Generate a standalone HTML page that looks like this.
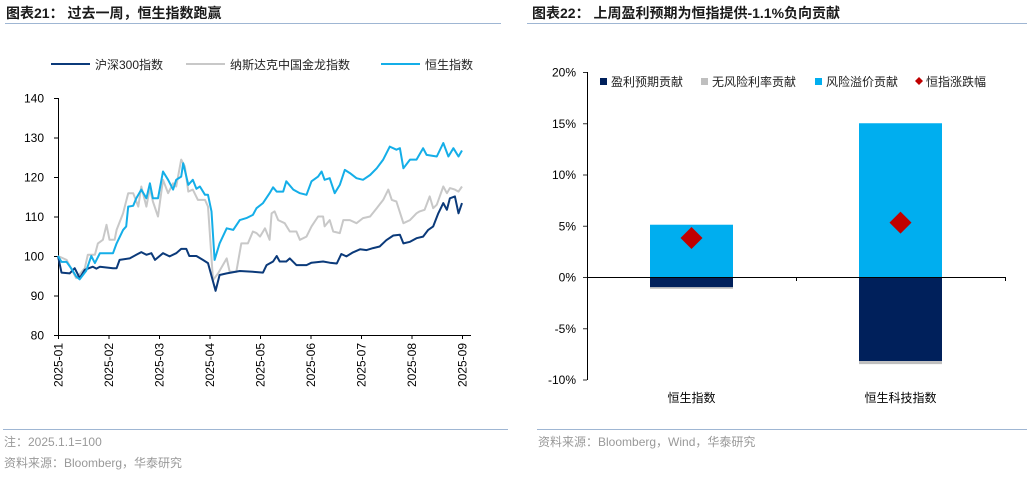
<!DOCTYPE html>
<html><head><meta charset="utf-8"><style>
body{margin:0;background:#fff;width:1031px;height:475px;overflow:hidden;font-family:"Liberation Sans","Noto Sans CJK SC",sans-serif}
svg text{font-family:"Liberation Sans","Noto Sans CJK SC",sans-serif}
</style></head><body>
<svg id="s" width="1031" height="475">
<text x="6" y="18" font-size="14" font-weight="bold" fill="#1a1a1a">图表21：  过去一周，恒生指数跑赢</text>
<line x1="5" y1="23.5" x2="501" y2="23.5" stroke="#9fb6d3" stroke-width="1"/>
<text x="532" y="18" font-size="14" font-weight="bold" fill="#1a1a1a">图表22：  上周盈利预期为恒指提供-1.1%负向贡献</text>
<line x1="527" y1="23.5" x2="1027" y2="23.5" stroke="#9fb6d3" stroke-width="1"/>
<line x1="3" y1="429.5" x2="508" y2="429.5" stroke="#9fb6d3"/>
<line x1="537" y1="429.5" x2="1027" y2="429.5" stroke="#9fb6d3"/>
<text x="4" y="446" font-size="12" fill="#999">注：2025.1.1=100</text>
<text x="4" y="467" font-size="12" fill="#999">资料来源：Bloomberg，华泰研究</text>
<text x="538" y="446" font-size="12" fill="#999">资料来源：Bloomberg，Wind，华泰研究</text>
<g id="left"></g>
<g id="right"></g>
</svg>
<script>
const monthLabels=["2025-01","2025-02","2025-03","2025-04","2025-05","2025-06","2025-07","2025-08","2025-09"];
const yTicksL=[80,90,100,110,120,130,140];
const hsiT=[0,.07,.17,.26,.36,.43,.56,.66,.73,.83,1.09,1.16,1.29,1.35,1.39,1.49,1.55,1.65,1.75,1.82,1.88,1.98,2.08,2.18,2.28,2.34,2.44,2.48,2.58,2.67,2.74,2.81,2.91,2.97,3.04,3.10,3.20,3.34,3.47,3.60,3.73,3.86,3.93,4.06,4.19,4.26,4.33,4.46,4.52,4.66,4.79,4.92,5.02,5.15,5.22,5.28,5.38,5.48,5.58,5.68,5.78,5.91,6.04,6.18,6.31,6.44,6.57,6.70,6.77,6.84,6.97,7.10,7.23,7.30,7.50,7.63,7.73,7.83,7.93,8.0];
const hsiV=[100,98.5,98.5,96.9,94.8,94.1,96.3,100,98.2,100.7,100.7,103.2,106.6,107.5,112.5,112.7,114.6,116.8,114.6,118.4,114.6,114.6,121.4,119.3,116.8,119.3,120.1,123.5,118,119.3,117,117.6,115.5,115.5,111.3,99,103.2,107,106.6,109.1,109.6,110.4,112.1,113.4,115.9,117.4,116.3,116.3,118.9,116.8,115.9,115.5,118.9,120.1,121.4,119.3,119.7,115.9,118,121.8,121,119.7,119.3,120.5,122.2,124.4,127.7,126.9,127.3,122.2,124.4,124.4,127.3,125.6,125.2,128.6,125.2,127.3,125.2,126.7];
const ndT=[0,.17,.36,.53,.59,.73,.79,.89,.96,1.02,1.12,1.16,1.29,1.39,1.49,1.59,1.65,1.75,1.82,1.88,1.98,2.08,2.18,2.28,2.34,2.44,2.51,2.58,2.67,2.77,2.91,2.97,3.07,3.17,3.34,3.40,3.53,3.63,3.76,3.86,3.93,4.00,4.10,4.19,4.23,4.29,4.36,4.49,4.59,4.72,4.79,4.92,5.02,5.15,5.25,5.28,5.38,5.45,5.58,5.65,5.78,5.91,6.04,6.18,6.31,6.44,6.54,6.61,6.70,6.84,6.97,7.10,7.16,7.26,7.36,7.43,7.50,7.63,7.70,7.76,7.86,7.93,8.0];
const ndV=[100,99,94.4,96.9,100.3,100.3,103.2,104.1,107.9,104.1,104.1,106.6,110.8,115.9,115.9,112.5,117.6,112.5,117.2,113.8,110,119.3,115.9,118.4,117.6,124.4,122.7,116.3,116.8,114.2,114.2,112.5,93.9,95.6,99.4,96,96,103.2,103.2,106.2,105.8,104.9,107,104.1,110.8,111.3,109.1,108.3,106.2,106.2,104.1,104.9,107.5,110,110,107.5,109.1,106.2,105.8,109.1,109.1,108.3,109.6,110,112.1,114.2,116.8,114.2,113.8,108.3,109.1,110.8,111.3,111.7,115.1,112.1,113,117.6,115.9,117.2,116.8,116.3,117.6];
const csiT=[0,.07,.23,.33,.43,.53,.69,.76,.83,1.09,1.16,1.22,1.42,1.55,1.65,1.75,1.85,1.92,2.08,2.21,2.34,2.44,2.54,2.60,2.74,2.87,2.97,3.12,3.20,3.34,3.60,3.86,4.06,4.13,4.26,4.33,4.39,4.52,4.59,4.72,4.92,5.02,5.25,5.38,5.52,5.61,5.71,5.84,5.98,6.11,6.24,6.37,6.50,6.64,6.77,6.84,6.97,7.10,7.23,7.33,7.43,7.53,7.63,7.70,7.76,7.86,7.93,8.0];
const csiV=[100,95.8,95.6,96.9,94.4,96.5,97.3,96.8,97.3,96.9,96.9,99,99.4,100.3,101,100.3,100.7,99,100.7,99.9,100.7,101.8,101.8,100,100,99,98.2,91.2,95.2,95.6,96.2,96,95.8,97.7,98.6,100,98.6,98.6,99.4,97.7,97.7,98.3,98.6,98.3,98.1,100.5,99.9,100.9,101.7,101.5,102,102.4,104,105.2,105.4,103.2,103.6,104.5,104.9,106.6,107.5,110.8,113.4,111.7,114.6,115.1,110.8,113.4];
const cats=["恒生指数","恒生科技指数"];
const earnV=[-1.0,-8.2];
const rfV=[-0.15,-0.3];
const premV=[5.1,15.0];
const totalV=[3.8,5.3];
const yTicksR=[-10,-5,0,5,10,15,20];
const NS="http://www.w3.org/2000/svg";
function mk(p,tag,a,txt){const e=document.createElementNS(NS,tag);for(const k in a)e.setAttribute(k,a[k]);if(txt!=null)e.textContent=txt;p.appendChild(e);return e;}
// Left chart
const L=document.getElementById('left');
const x0=58,x1=462,yTop=98,yBot=335;
const xL=m=>x0+m*(x1-x0)/8;
const yL=v=>yBot-(v-80)*(yBot-yTop)/60;
let ax=mk(L,'path',{d:`M${x0+.5} ${yTop}V${yBot+.5}H${x1+9}`,stroke:'#000',fill:'none','stroke-width':1});


yTicksL.forEach(v=>{
 const t=mk(L,'line',{x1:x0-4,x2:x0,y1:yL(v)+.5,y2:yL(v)+.5,stroke:'#000'});
 
 
 const l=mk(L,'text',{x:x0-14,y:yL(v)+4.5,'font-size':12,'text-anchor':'end',fill:'#000'},v);
 
 
});
monthLabels.forEach((s,i)=>{
 const t=mk(L,'line',{x1:xL(i)+.5,x2:xL(i)+.5,y1:yBot,y2:yBot+4,stroke:'#000'});
 
 
 const l=mk(L,'text',{x:0,y:0,'font-size':12,'text-anchor':'end',transform:`translate(${xL(i)+4.5},${yBot+8}) rotate(-90)`,fill:'#000'},s);
 
 
});
function line(T,V,c,name){const d=T.map((t,i)=>(i?'L':'M')+xL(t).toFixed(1)+' '+yL(V[i]).toFixed(1)).join('');
 const p=mk(L,'path',{d,stroke:c,fill:'none','stroke-width':2,'stroke-linejoin':'round'});
 
 }
line(ndT,ndV,'#c8c8c8','nasdaq-golden-dragon-line');
line(csiT,csiV,'#0b3a7a','csi300-line');
line(hsiT,hsiV,'#14aee8','hsi-line');
[['沪深300指数','#0b3a7a',51],['纳斯达克中国金龙指数','#c8c8c8',186],['恒生指数','#14aee8',381]].forEach(([n,c,x])=>{
 const g=mk(L,'g',{});
 
 
 mk(g,'line',{x1:x,x2:x+39,y1:64,y2:64,stroke:c,'stroke-width':2});
 mk(g,'text',{x:x+44,y:69,'font-size':12,fill:'#222'},n);
});
// Right chart
const R=document.getElementById('right');
const rx0=587,rx1=1005,ry20=72,ry0=277;
const yR=v=>ry0-v*(ry0-ry20)/20;
const catX=i=>rx0+(i+0.5)*(rx1-rx0)/2;
const bw=83;
yTicksR.forEach(v=>{
 const t=mk(R,'line',{x1:rx0-4,x2:rx0,y1:yR(v)+.5,y2:yR(v)+.5,stroke:'#333'});
 
 
 const l=mk(R,'text',{x:rx0-11,y:yR(v)+4.5,'font-size':12,'text-anchor':'end',fill:'#000'},v+'%');
 
 
});
cats.forEach((c,i)=>{
 const cx=catX(i);
 const a=mk(R,'rect',{x:cx-bw/2,y:yR(0),width:bw,height:yR(0)-yR(premV[i])===0?0:yR(0)-yR(premV[i]),fill:'#00aeef'});
 a.setAttribute('y',yR(premV[i]));
 
 
 const b=mk(R,'rect',{x:cx-bw/2,y:yR(0),width:bw,height:yR(earnV[i])-yR(0),fill:'#00205b'});
 
 
 const r=mk(R,'rect',{x:cx-bw/2,y:yR(earnV[i]),width:bw,height:yR(earnV[i]+rfV[i])-yR(earnV[i]),fill:'#bfbfbf'});
 
 
 const y=yR(totalV[i]);
 const d=mk(R,'path',{d:`M${cx} ${y-11}L${cx+11} ${y}L${cx} ${y+11}L${cx-11} ${y}Z`,fill:'#c00000'});
 
 
 const l=mk(R,'text',{x:cx,y:402,'font-size':12,'text-anchor':'middle',fill:'#000'},c);
 
 
});
const ra=mk(R,'path',{d:`M${rx0+.5} ${ry20}V${yR(-10)+.5}M${rx0} ${ry0+.5}H${rx1}M${(rx0+rx1)/2+.5} ${ry0}v4M${rx1+.5} ${ry0}v4`,stroke:'#000',fill:'none'});


[['盈利预期贡献','#00205b',600,'s'],['无风险利率贡献','#bfbfbf',701,'s'],['风险溢价贡献','#00aeef',815,'s'],['恒指涨跌幅','#c00000',915,'d']].forEach(([n,c,x,k])=>{
 const g=mk(R,'g',{});
 
 
 if(k==='s')mk(g,'rect',{x:x,y:78,width:7,height:7,fill:c});
 else mk(g,'path',{d:`M${x+4} 77l4 4l-4 4l-4-4Z`,fill:c});
 mk(g,'text',{x:x+11,y:86,'font-size':12,fill:'#222'},n);
});
</script>
</body></html>
